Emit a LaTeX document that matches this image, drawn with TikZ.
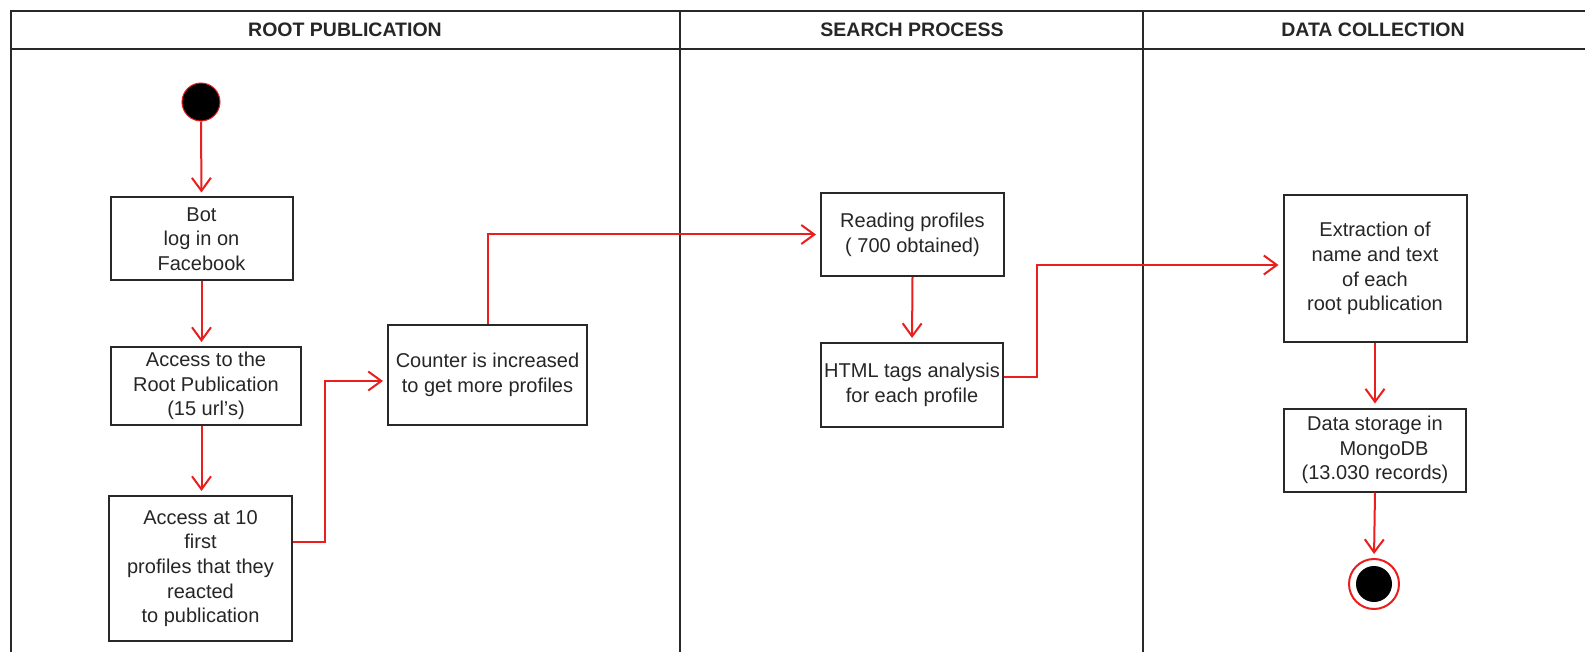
\documentclass[tikz,border=0pt]{standalone}
\usepackage{fontspec}
\setmainfont{Liberation Sans}
\usetikzlibrary{arrows.meta,calc}
\definecolor{flowred}{RGB}{235,30,30}
\definecolor{edge}{RGB}{40,40,40}
\begin{document}
\begin{tikzpicture}[x=1pt,y=-1pt,
  every node/.style={font=\fontsize{20}{24.7}\selectfont,text=black!85},
  actbox/.style={draw=edge,line width=2pt,fill=white,align=center,inner sep=0pt},
  lane/.style={draw=edge,line width=2.5pt},
  lanetitle/.style={font=\fontsize{19.5}{23}\selectfont\bfseries,text=black!85},
  flow/.style={draw=flowred,line width=2pt,-{Straight Barb[length=13pt,width=19pt,line width=2pt]},shorten >=4pt},
  flowline/.style={draw=flowred,line width=2pt}]
\useasboundingbox (0,0) rectangle (1585,652);
\fill[white] (0,0) rectangle (1585,652);

% swimlanes
\draw[lane] (11,652) -- (11,11) -- (1585,11);
\draw[lane] (11,49) -- (1585,49);
\draw[lane] (680,11) -- (680,652);
\draw[lane] (1143,11) -- (1143,652);
\node[lanetitle] (t1) at (345,30) {ROOT PUBLICATION};
\node[lanetitle] (t2) at (912,30) {SEARCH PROCESS};
\node[lanetitle] (t3) at (1373,30) {DATA COLLECTION};

% activity nodes
\node[circle,fill=black,draw=flowred,line width=1pt,minimum size=38pt,inner sep=0pt] (start) at (201,102) {};
\node[actbox,minimum width=182pt,minimum height=83pt] (bot) at (201.5,239) {Bot\\log in on\\Facebook};
\node[actbox,minimum width=190pt,minimum height=78pt] (root) at (206,386) {Access to the\\Root Publication\\(15 url's)};
\node[actbox,minimum width=183pt,minimum height=145pt] (ten) at (200.5,568.5) {Access at 10\\first\\profiles that they\\reacted\\to publication};
\node[actbox,minimum width=199pt,minimum height=100pt] (counter) at (487.5,375) {Counter is increased\\to get more profiles};
\node[actbox,minimum width=183pt,minimum height=83pt] (reading) at (912.5,234.5) {Reading profiles\\( 700 obtained)};
\node[actbox,minimum width=182pt,minimum height=84pt] (html) at (912,385) {HTML tags analysis\\for each profile};
\node[actbox,minimum width=183pt,minimum height=146pt] (extract) at (1375,268.5) {Extraction of\\name and text\\of each\\root publication};
\node[actbox,minimum width=182pt,minimum height=83pt] (store) at (1375,450) {Data storage in\\\hspace*{18pt}MongoDB\\(13.030 records)};
\node[circle,draw=flowred,line width=2pt,fill=white,minimum size=50pt,inner sep=0pt] (end) at (1374,584) {};
\node[circle,fill=black,minimum size=36pt,inner sep=0pt] (endcore) at (end.center) {};

% connector bends
\coordinate (tenout) at ($(ten.east)+(0,-26.5)$);
\coordinate (b1) at (325,381);
\coordinate (htmlout) at ($(html.east)+(0,-8)$);
\coordinate (b4) at (1037,265);

% flows
\draw[flow] (start.south) -- (bot.north);
\draw[flow] (bot.south) -- (bot.south |- root.north);
\draw[flow] (bot.south |- root.south) -- (bot.south |- ten.north);
\draw[flow] (tenout) -| (b1) -- (counter.west |- b1);
\draw[flow] (counter.north) |- (reading.west);
\draw[flow] (reading.south) -- (html.north);
\draw[flow] (htmlout) -| (b4) -- (extract.west |- b4);
\draw[flow] (extract.south) -- (store.north);
\draw[flow] (store.south) -- (end.north);
\end{tikzpicture}
\end{document}
